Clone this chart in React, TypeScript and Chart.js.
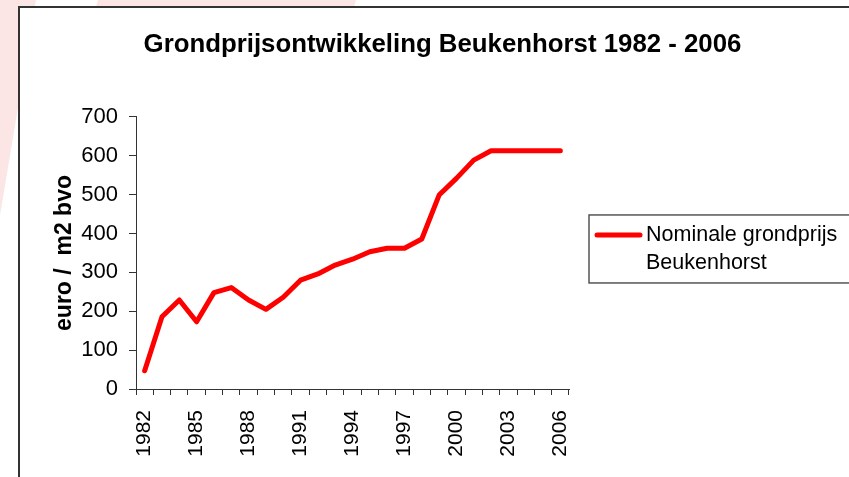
import React, { useEffect, useRef } from "react";
import { Chart, registerables } from "chart.js";

Chart.register(...registerables);

const chartTitle = "Grondprijsontwikkeling Beukenhorst 1982 - 2006";
const yAxisTitle = "euro /  m2 bvo";
const seriesLabel = "Nominale grondprijs Beukenhorst";
const legendLines = ["Nominale grondprijs", "Beukenhorst"];

const years = [
  "1982", "1983", "1984", "1985", "1986", "1987", "1988", "1989", "1990",
  "1991", "1992", "1993", "1994", "1995", "1996", "1997", "1998", "1999",
  "2000", "2001", "2002", "2003", "2004", "2005", "2006",
];

const nominalPrice = [
  47, 186, 229, 173, 248, 261, 229, 205, 236,
  280, 296, 319, 334, 353, 362, 362, 386, 499,
  542, 589, 613, 613, 613, 613, 613,
];

const labeledYears = ["1982", "1985", "1988", "1991", "1994", "1997", "2000", "2003", "2006"];

const yMin = 0;
const yMax = 700;
const yStep = 100;

const FONT = "'Liberation Sans', Arial, Helvetica, sans-serif";

const legendPlugin = {
  id: "boxLegend",
  afterDraw(chart: any) {
    const { ctx, chartArea } = chart;
    const ds = chart.data.datasets[0];
    const boxX = chartArea.right + 20;
    const boxY = chartArea.top + 98;
    ctx.save();
    ctx.strokeStyle = "#555";
    ctx.lineWidth = 1.5;
    ctx.strokeRect(boxX, boxY, chart.width - boxX + 20, 68);
    ctx.strokeStyle = ds.borderColor;
    ctx.lineWidth = 5;
    ctx.lineCap = "round";
    ctx.beginPath();
    ctx.moveTo(boxX + 8, boxY + 20);
    ctx.lineTo(boxX + 51, boxY + 20);
    ctx.stroke();
    ctx.fillStyle = "#000";
    ctx.font = `21.5px ${FONT}`;
    ctx.textBaseline = "middle";
    ctx.textAlign = "left";
    legendLines.forEach((line, i) => {
      ctx.fillText(line, boxX + 57, boxY + 20 + i * 28);
    });
    ctx.restore();
  },
};

export default function App() {
  const canvasRef = useRef<HTMLCanvasElement | null>(null);

  useEffect(() => {
    document.body.style.margin = "0";
    document.body.style.overflow = "hidden";
    const canvas = canvasRef.current;
    if (!canvas) return;
    const chart = new Chart(canvas, {
      type: "line",
      data: {
        labels: years,
        datasets: [
          {
            label: seriesLabel,
            data: nominalPrice,
            borderColor: "#ff0000",
            backgroundColor: "#ff0000",
            borderWidth: 5,
            pointRadius: 0,
            tension: 0,
            borderJoinStyle: "round",
            borderCapStyle: "round",
            yAxisID: "y",
          },
        ],
      },
      options: {
        animation: false,
        responsive: false,
        devicePixelRatio: 1,
        layout: { padding: 0 },
        plugins: {
          legend: { display: false },
          tooltip: { enabled: false },
          title: {
            display: true,
            text: chartTitle,
            color: "#000",
            font: { family: FONT, size: 25.8, weight: "bold" },
            padding: { top: 21, bottom: 57 },
          },
        },
        scales: {
          x: {
            type: "category",
            offset: true,
            grid: {
              display: true,
              offset: true,
              drawOnChartArea: false,
              drawTicks: true,
              tickLength: 6,
              color: "#333",
            },
            border: { display: true, color: "#333", width: 1 },
            ticks: {
              autoSkip: false,
              minRotation: 90,
              maxRotation: 90,
              padding: 15,
              color: "#000",
              font: { family: FONT, size: 21 },
              callback: (_v: any, index: number) =>
                labeledYears.includes(years[index]) ? years[index] : "",
            },
            afterFit: (s: any) => {
              s.height = 88;
            },
          },
          y: {
            min: yMin,
            max: yMax,
            grid: {
              display: true,
              drawOnChartArea: false,
              drawTicks: true,
              tickLength: 7,
              color: "#333",
            },
            border: { display: true, color: "#333", width: 1 },
            ticks: {
              stepSize: yStep,
              padding: 11,
              color: "#000",
              font: { family: FONT, size: 22 },
            },
            title: {
              display: true,
              text: yAxisTitle,
              color: "#000",
              font: { family: FONT, size: 23, weight: "bold" },
              padding: { top: 31, bottom: 0 },
            },
            afterFit: (s: any) => {
              s.width = 116;
            },
          },
          yRight: {
            position: "right",
            display: true,
            grid: { display: false },
            ticks: { display: false },
            border: { display: false },
            afterFit: (s: any) => {
              s.width = 296;
            },
          },
        },
      },
      plugins: [legendPlugin],
    } as any);
    return () => chart.destroy();
  }, []);

  return (
    <div
      style={{
        position: "relative",
        width: 849,
        height: 477,
        overflow: "hidden",
        background: "#fff",
      }}
    >
      <div
        style={{
          position: "absolute",
          left: 0,
          top: 0,
          width: 849,
          height: 477,
          background: "#fbe5e5",
          clipPath: "polygon(0 0, 36px 0, 0 215px)",
        }}
      />
      <div
        style={{
          position: "absolute",
          left: 0,
          top: 0,
          width: 849,
          height: 477,
          background: "#fbe5e5",
          clipPath: "polygon(98px 0, 356px 0, 350px 20px, 92px 20px)",
        }}
      />
      <div
        style={{
          position: "absolute",
          left: 18,
          top: 6,
          width: 900,
          height: 520,
          border: "2px solid #333",
          background: "#fff",
        }}
      />
      <canvas
        ref={canvasRef}
        width={845}
        height={469}
        style={{ position: "absolute", left: 20, top: 8 }}
      />
    </div>
  );
}
